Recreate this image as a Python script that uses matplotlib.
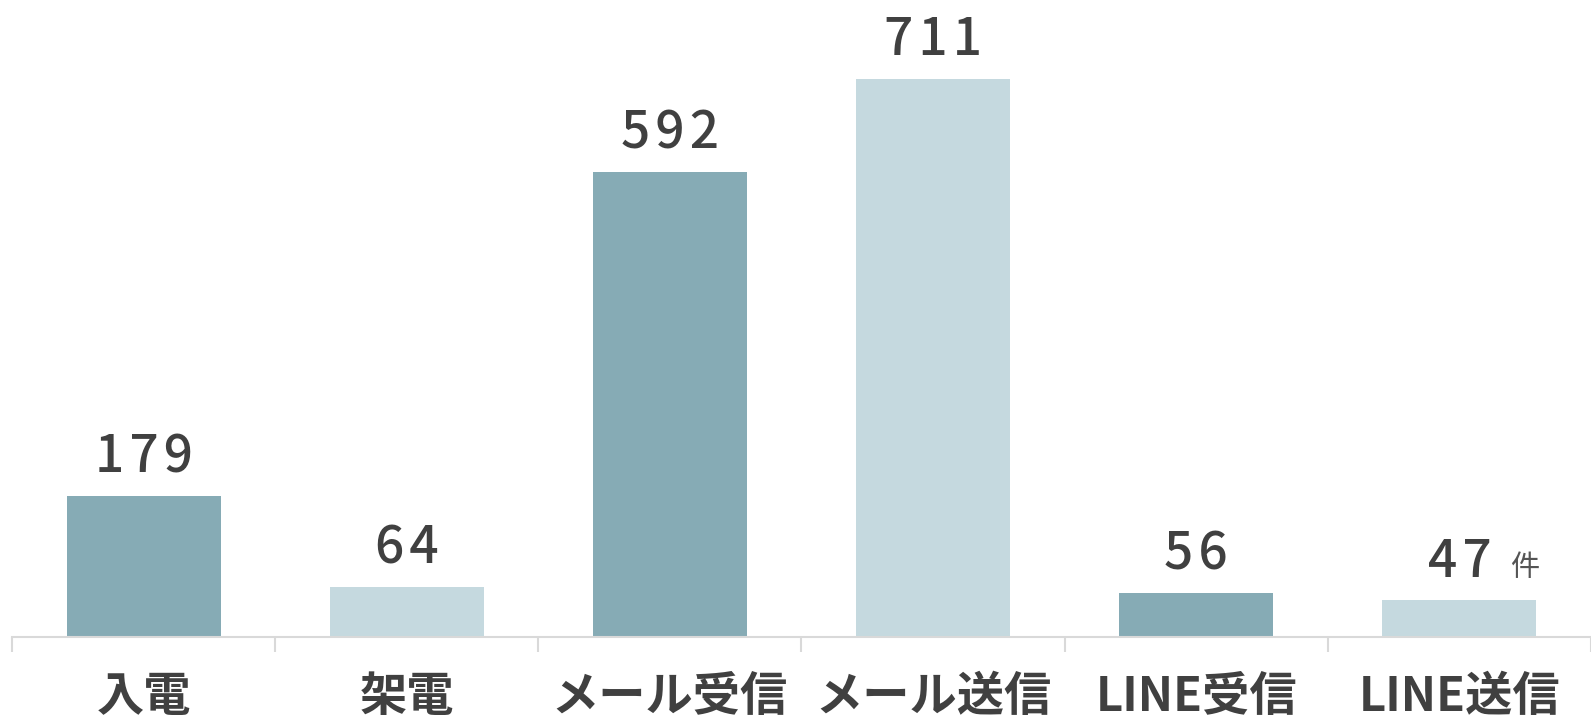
import matplotlib.pyplot as plt
import numpy as np

plt.rcParams['font.family'] = ['Noto Sans CJK JP', 'DejaVu Sans']

categories = ["入電", "架電", "メール受信", "メール送信", "LINE受信", "LINE送信"]
values = [179, 64, 592, 711, 56, 47]
unit = "件"

dark = "#86abb5"
light = "#c5d9df"
colors = [dark, light, dark, light, dark, light]
text_color = "#404040"

fig = plt.figure(figsize=(15.91, 7.21), dpi=100)
ax = fig.add_axes([12 / 1591, 84 / 721, 1 - 12 / 1591, 1 - 84 / 721])

x = np.arange(len(categories))
bars = ax.bar(x, values, width=0.585, color=colors)

ax.set_xlim(-0.5, len(categories) - 0.5)
ax.set_ylim(0, 811)

for b, v in zip(bars, values):
    # hair spaces to get the wide letter spacing of the original
    label = "\u200a".join(str(v))
    ax.annotate(label, (b.get_x() + b.get_width() / 2, v), xytext=(0, 9),
                textcoords="offset points", ha="center", va="bottom",
                fontsize=37, fontweight="medium", color=text_color)

# unit next to the last value
last = bars[-1]
ax.annotate(unit, (last.get_x() + last.get_width() / 2, values[-1]), xytext=(47, 12),
            textcoords="offset points", ha="center", va="bottom",
            fontsize=21, color="#555555")

for s in ["top", "right", "left"]:
    ax.spines[s].set_visible(False)
ax.spines["bottom"].set_color("#d9d9d9")
ax.spines["bottom"].set_linewidth(1.5)
ax.set_yticks([])

ax.set_xticks(x)
ax.set_xticklabels(categories, fontsize=34, fontweight="bold", color=text_color)
ax.tick_params(axis="x", which="major", length=0, pad=26)
ax.set_xticks(np.arange(-0.5, len(categories)), minor=True)
ax.tick_params(axis="x", which="minor", length=11, width=1.5, color="#d9d9d9")

fig.savefig("out.png", dpi=100)
